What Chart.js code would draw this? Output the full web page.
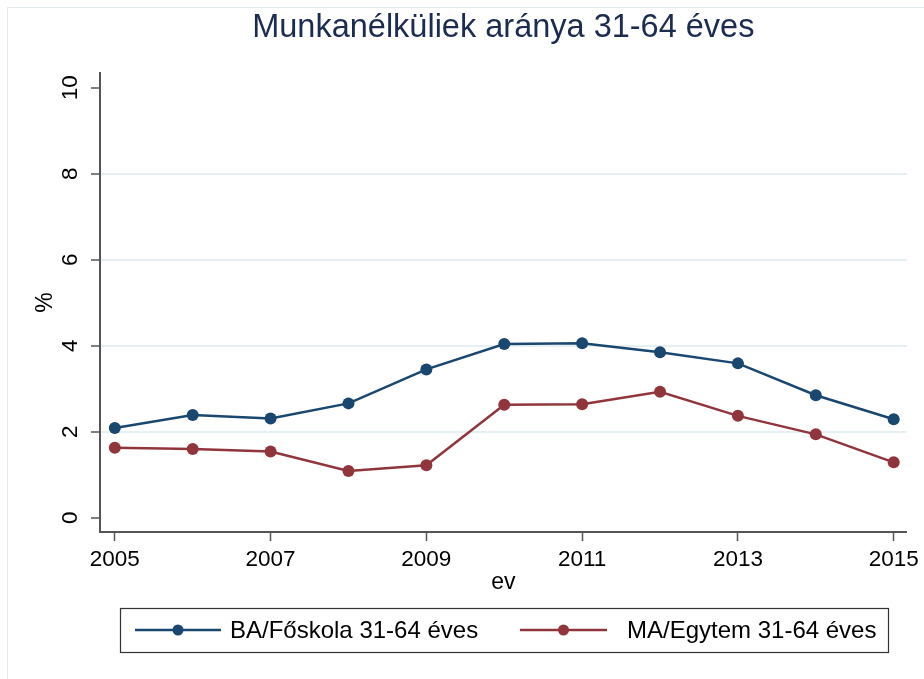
<!DOCTYPE html>
<html>
<head>
<meta charset="utf-8">
<script src="https://cdn.jsdelivr.net/npm/chart.js@4.4.0/dist/chart.umd.min.js"></script>
<style>
html,body{margin:0;padding:0;background:#fff}
#wrap{position:relative;width:924px;height:679px;overflow:hidden}
#frame{position:absolute;left:7px;top:7px;width:960px;height:720px;border:1px solid #e2ebee}
#c{position:absolute;left:0;top:0}
</style>
</head>
<body>
<div id="wrap"><div id="frame"></div><canvas id="c" width="924" height="679"></canvas></div>
<script>
/* Stata-style line chart: unemployment rate 31-64 */

var years=[2005,2006,2007,2008,2009,2010,2011,2012,2013,2014,2015];
var baValues=[2.09,2.39,2.31,2.66,3.45,4.04,4.06,3.85,3.59,2.85,2.29];
var maValues=[1.63,1.60,1.54,1.09,1.22,2.63,2.64,2.93,2.37,1.94,1.29];
var seriesLabels=['BA/Főskola 31-64 éves','MA/Egytem 31-64 éves'];
var xTicks=[2005,2007,2009,2011,2013,2015];
var yTicks=[0,2,4,6,8,10];
var titleText='Munkanélküliek aránya 31-64 éves';

var FONT="'Liberation Sans Narrow','Arial Narrow','Liberation Sans',sans-serif";
var BLUE='#1a476f',RED='#90353b';

function pts(vals){return years.map(function(y,i){return{x:y,y:vals[i]}})}

// legend drawn by hand, Stata style: framed box with line+marker samples
var stataLegend={
  id:'stataLegend',
  afterDraw:function(chart){
    var ctx=chart.ctx;
    ctx.save();
    ctx.strokeStyle='#333';
    ctx.lineWidth=1.2;
    ctx.strokeRect(120.5,608.5,768,44);
    var items=[{x1:135,x2:221,tx:230},{x1:520,x2:607,tx:627}];
    var yMid=630;
    chart.data.datasets.forEach(function(ds,i){
      var it=items[i];
      ctx.strokeStyle=ds.borderColor;
      ctx.lineWidth=2.5;
      ctx.beginPath();ctx.moveTo(it.x1,yMid);ctx.lineTo(it.x2,yMid);ctx.stroke();
      ctx.fillStyle=ds.borderColor;
      ctx.beginPath();ctx.arc((it.x1+it.x2)/2,yMid,5.5,0,Math.PI*2);ctx.fill();
      ctx.fillStyle='#000';
      ctx.font='24px '+FONT;
      ctx.textBaseline='middle';
      ctx.textAlign='left';
      ctx.fillText(ds.label,it.tx,yMid+1);
    });
    ctx.restore();
  }
};

var ctx=document.getElementById('c').getContext('2d');
var chart=new Chart(ctx,{
  type:'line',
  data:{
    datasets:[
      {label:seriesLabels[0],data:pts(baValues),borderColor:BLUE,backgroundColor:BLUE,borderWidth:2.5,pointRadius:6,pointBorderWidth:0,pointBackgroundColor:BLUE,tension:0},
      {label:seriesLabels[1],data:pts(maValues),borderColor:RED,backgroundColor:RED,borderWidth:2.5,pointRadius:6,pointBorderWidth:0,pointBackgroundColor:RED,tension:0}
    ]
  },
  options:{
    responsive:false,
    animation:false,
    layout:{autoPadding:false,padding:{left:0,right:11,top:0,bottom:71}},
    plugins:{
      legend:{display:false},
      tooltip:{enabled:false},
      title:{display:true,text:titleText,fullSize:false,color:'#1c2b50',font:{family:FONT,size:32.5,weight:'normal'},padding:{top:9,bottom:25}}
    },
    scales:{
      x:{
        type:'linear',
        min:2004.81,max:2015.166,
        afterBuildTicks:function(s){s.ticks=xTicks.map(function(v){return{value:v}})},
        afterFit:function(s){s.height=76},
        ticks:{color:'#000',font:{family:FONT,size:22.5},padding:5,maxRotation:0,callback:function(v){return String(v)}},
        grid:{drawOnChartArea:false,drawTicks:true,tickLength:9,tickColor:'#555',tickWidth:1.5},
        border:{display:true,color:'#555',width:2},
        title:{display:true,text:'ev',color:'#000',font:{family:FONT,size:23},padding:{top:0,bottom:12}}
      },
      y:{
        min:-0.33,max:10.34,
        afterBuildTicks:function(s){s.ticks=yTicks.map(function(v){return{value:v}})},
        afterFit:function(s){s.width=100},
        ticks:{color:'#000',font:{family:FONT,size:22.5},minRotation:90,maxRotation:90,crossAlign:'center',padding:8},
        grid:{
          color:function(c){var v=c.tick&&c.tick.value;return(v>0&&v<10)?'#e6eff1':'rgba(0,0,0,0)'},
          lineWidth:2,
          drawTicks:true,tickLength:9,tickColor:'#555',tickWidth:1.5
        },
        border:{display:true,color:'#555',width:2},
        title:{display:true,text:'%',color:'#000',font:{family:FONT,size:23},padding:{top:32,bottom:0}}
      }
    }
  },
  plugins:[stataLegend]
});
</script>
</body>
</html>
